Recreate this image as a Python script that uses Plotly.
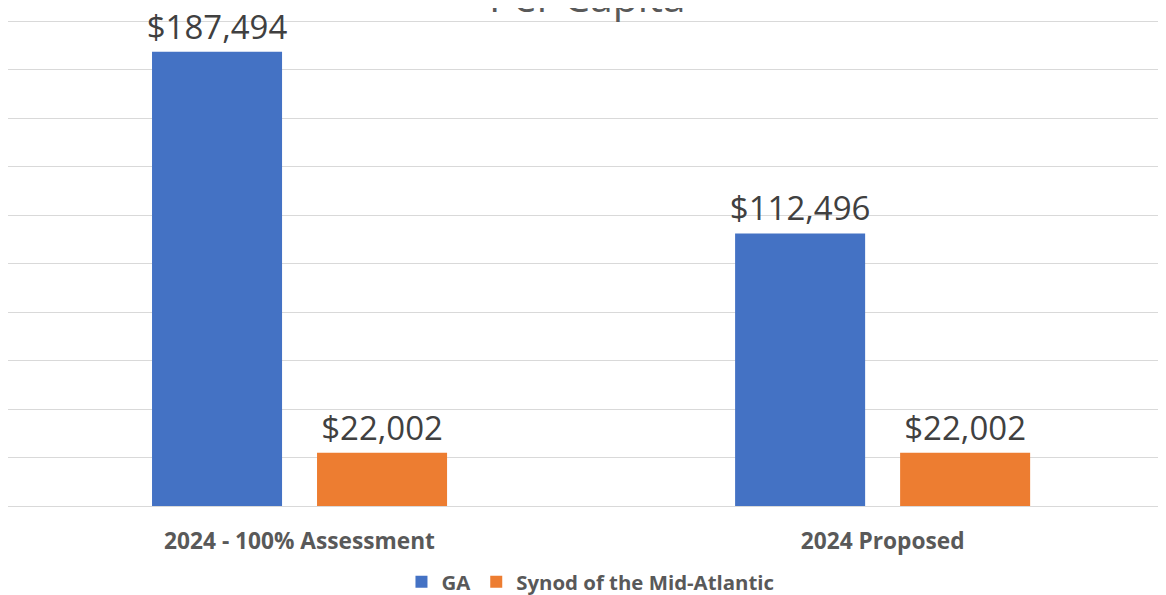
import plotly.graph_objects as go

categories = ["2024 - 100% Assessment", "2024 Proposed"]
ga_values = [187494, 112496]
synod_values = [22002, 22002]
series_names = ["GA", "Synod of the Mid-Atlantic"]
series_colors = ["#4472C4", "#ED7D31"]
title_text = "Per Capita"

FONT = "Open Sans"

fig = go.Figure()
for name, vals, col in zip(series_names, [ga_values, synod_values], series_colors):
    fig.add_trace(go.Bar(
        x=categories, y=vals, name=name,
        marker=dict(color=col, line=dict(width=0)),
        text=[f"${v:,.0f}" for v in vals],
        textposition="outside",
        textfont=dict(family=FONT, size=33, color="#404040"),
        constraintext="none",
        cliponaxis=False,
    ))

fig.add_annotation(
    text=title_text, xref="paper", yref="paper", x=0.5, y=1,
    xanchor="center", yanchor="middle", yshift=22.6, showarrow=False,
    font=dict(family=FONT, size=41, color="#595959"),
)

fig.update_layout(
    width=1158, height=587,
    margin=dict(l=0, r=0, t=10.6, b=89, pad=0),
    paper_bgcolor="white", plot_bgcolor="white",
    barmode="group", bargap=0.434, bargroupgap=0.212,
    showlegend=True,
    legend=dict(orientation="h", x=0.503, xanchor="center",
                yref="container", y=0.022, yanchor="middle",
                font=dict(family=FONT, size=20.4, color="#595959", weight="bold"),
                itemwidth=30, traceorder="normal"),
    xaxis=dict(type="category", range=[-0.5, 1.486], showgrid=False, showline=False,
               ticks="", tickfont=dict(family=FONT, size=22.7, color="#595959", weight="bold"),
               ticklabelstandoff=19),
    yaxis=dict(range=[0, 201000], dtick=20000, showgrid=True, gridcolor="#D9D9D9",
               gridwidth=1, showticklabels=False, zeroline=True, zerolinecolor="#D9D9D9",
               zerolinewidth=1, showline=False, ticks=""),
)

fig.write_html("out.html")
